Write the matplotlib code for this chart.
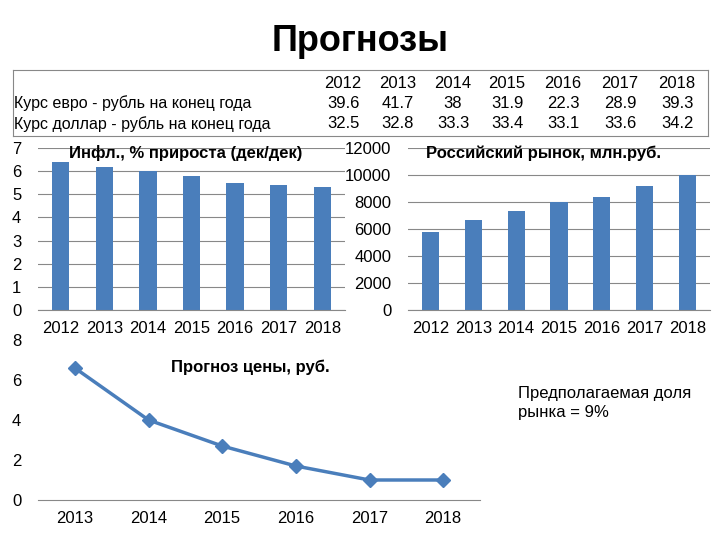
import matplotlib
matplotlib.use("Agg")
import matplotlib.pyplot as plt

plt.rcParams["font.family"] = ["Liberation Sans", "DejaVu Sans"]

years = ["2012", "2013", "2014", "2015", "2016", "2017", "2018"]
euro_rate = ["39.6", "41.7", "38", "31.9", "22.3", "28.9", "39.3"]
usd_rate = ["32.5", "32.8", "33.3", "33.4", "33.1", "33.6", "34.2"]
row_labels = ["Курс евро - рубль на конец года", "Курс доллар - рубль на конец года"]
inflation = [6.4, 6.2, 6.0, 5.8, 5.5, 5.4, 5.3]
market = [5750, 6650, 7350, 8000, 8400, 9150, 10000]
price_years = ["2013", "2014", "2015", "2016", "2017", "2018"]
price = [6.6, 4.0, 2.7, 1.7, 1.0, 1.0]

W, H = 720, 540
blue = "#4a7ebb"
fig = plt.figure(figsize=(7.2, 5.4), dpi=100)

def rect(x0, y0, x1, y1):
    return [x0 / W, 1 - y1 / H, (x1 - x0) / W, (y1 - y0) / H]

fig.text(360 / W, 1 - 42 / H, "Прогнозы", ha="center", va="center",
         fontsize=26, fontweight="bold", color="black")

# table
tab = fig.add_axes(rect(13, 70, 708, 136))
tab.set_xlim(13, 708)
tab.set_ylim(136, 70)
tab.set_xticks([])
tab.set_yticks([])
for s in tab.spines.values():
    s.set_color("#888888")
    s.set_linewidth(0.8)
col_x = [343, 398, 453, 507, 563, 620, 677]
for i, x in enumerate(col_x):
    tab.text(x, 83, years[i], ha="center", va="center", fontsize=12)
    tab.text(x, 103, euro_rate[i], ha="center", va="center", fontsize=12)
    tab.text(x, 124, usd_rate[i], ha="center", va="center", fontsize=12)
tab.text(14, 103, row_labels[0], ha="left", va="center", fontsize=11.5)
tab.text(14, 124, row_labels[1], ha="left", va="center", fontsize=11.5)

def style(ax):
    for k in ["top", "right"]:
        ax.spines[k].set_visible(False)
    ax.spines["left"].set_visible(False)
    ax.spines["bottom"].set_color("#888888")
    ax.tick_params(axis="y", length=0, labelsize=12, pad=12)
    ax.tick_params(axis="x", labelsize=12, length=0, pad=8)
    ax.grid(axis="y", color="#888888", linewidth=0.8)
    ax.set_axisbelow(True)

ax1 = fig.add_axes(rect(38, 148, 345, 310))
ax1.bar(years, inflation, width=0.4, color=blue)
ax1.set_ylim(0, 7)
ax1.set_yticks(range(8))
style(ax1)
ax1.text(0.1, 0.97, "Инфл., % прироста (дек/дек)", transform=ax1.transAxes,
         fontsize=12, fontweight="bold", va="center")

ax2 = fig.add_axes(rect(408, 148, 710, 310))
ax2.bar(years, market, width=0.4, color=blue)
ax2.set_ylim(0, 12000)
ax2.set_yticks(range(0, 12001, 2000))
style(ax2)
ax2.text(0.06, 0.97, "Российский рынок, млн.руб.", transform=ax2.transAxes,
         fontsize=12, fontweight="bold", va="center")

ax3 = fig.add_axes(rect(38, 340, 480, 500))
ax3.plot(price_years, price, color=blue, linewidth=2.5, marker="D", markersize=7)
ax3.set_ylim(0, 8)
ax3.set_yticks(range(0, 9, 2))
ax3.set_xlim(-0.5, 5.5)
style(ax3)
ax3.grid(False)
ax3.text(0.3, 0.83, "Прогноз цены, руб.", transform=ax3.transAxes,
         fontsize=12, fontweight="bold", va="center")

fig.text(518 / W, 1 - 403 / H, "Предполагаемая доля\nрынка = 9%",
         fontsize=12, va="center", ha="left", linespacing=1.4)

fig.savefig("out.png", dpi=100)
